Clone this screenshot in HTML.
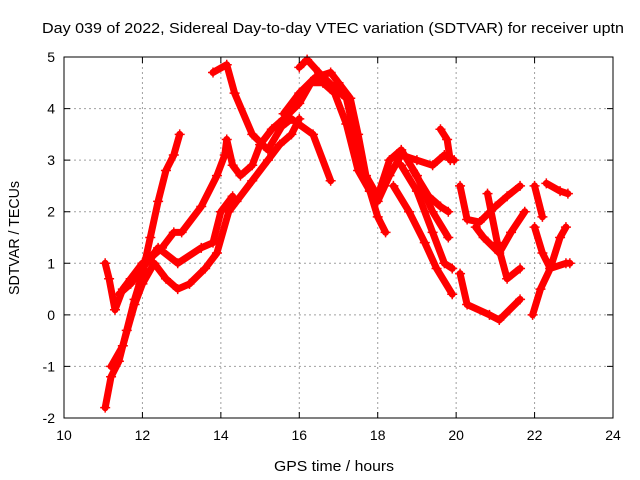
<!DOCTYPE html>
<html><head><meta charset="utf-8"><style>
body{margin:0;background:#fff}
svg{display:block;font-family:"Liberation Sans",sans-serif}
</style></head><body>
<svg id="chart" width="640" height="480">
<text x="333" y="33" font-size="15" text-anchor="middle" textLength="582" lengthAdjust="spacingAndGlyphs">Day 039 of 2022, Sidereal Day-to-day VTEC variation (SDTVAR) for receiver uptn</text>
<text x="334" y="471" font-size="15" text-anchor="middle" textLength="120" lengthAdjust="spacingAndGlyphs">GPS time / hours</text>
<text transform="translate(19,238) rotate(-90)" font-size="15" text-anchor="middle" textLength="114" lengthAdjust="spacingAndGlyphs">SDTVAR / TECUs</text>
<g id="grid"></g><g id="series"></g><g id="axes"></g>
</svg>
<script>
const xTicks=[10,12,14,16,18,20,22,24];
const yTicks=[-2,-1,0,1,2,3,4,5];
const track1=[[11.05,-1.8],[11.2,-1.2],[11.4,-0.9],[11.6,-0.3],[11.8,0.3],[12.0,0.8],[12.2,1.5],[12.4,2.2],[12.6,2.8],[12.8,3.1],[12.95,3.5]];
const track2=[[11.05,1.0],[11.15,0.7],[11.3,0.1],[11.5,0.5],[11.7,0.7],[12.0,1.0],[12.2,1.1],[12.5,1.3],[12.8,1.6],[13.0,1.6],[13.5,2.1],[13.9,2.7],[14.1,3.1],[14.15,3.4],[14.3,2.9],[14.5,2.7],[14.8,2.9],[15.0,3.3],[15.3,3.6],[15.6,3.8],[16.0,4.1],[16.3,4.5],[16.6,4.5],[16.9,4.3],[17.2,3.7],[17.5,2.8],[17.8,2.4],[18.0,2.2],[18.3,2.7],[18.6,3.1],[19.0,3.0],[19.4,2.9],[19.7,3.1],[19.95,3.0]];
const track3=[[11.2,-1.0],[11.5,-0.6],[11.8,0.2],[12.0,0.6],[12.3,1.0],[12.6,0.7],[12.9,0.5],[13.2,0.6],[13.6,0.9],[13.9,1.2],[14.2,2.0],[14.4,2.2],[14.8,2.6],[15.2,3.0],[15.5,3.3],[15.8,3.5],[16.0,3.8]];
const track4=[[11.4,0.4],[11.7,0.6],[12.0,0.9],[12.4,1.3],[12.9,1.0],[13.5,1.3],[13.8,1.4],[14.0,2.0],[14.3,2.3]];
const track5=[[13.8,4.7],[14.15,4.85],[14.35,4.3],[14.8,3.5],[15.2,3.2],[15.55,3.65],[15.8,3.8],[16.35,3.5],[16.8,2.6]];
const track6=[[16.0,4.8],[16.2,4.95],[16.5,4.7],[16.9,4.4],[17.2,4.2],[17.5,3.2],[17.8,2.4],[18.0,1.9],[18.2,1.6]];
const track7=[[15.6,3.9],[16.0,4.3],[16.4,4.6],[16.8,4.7],[17.0,4.5],[17.3,4.2],[17.5,3.5],[17.7,2.7],[18.0,2.3],[18.3,3.0],[18.6,3.2],[19.0,2.7],[19.4,2.0],[19.8,1.5]];
const track8=[[18.4,2.5],[18.8,2.0],[19.2,1.4],[19.5,0.9],[19.9,0.4]];
const track9=[[18.6,2.9],[19.0,2.4],[19.4,1.6],[19.7,1.0],[19.9,0.9]];
const track10=[[18.9,2.8],[19.3,2.3],[19.6,2.1],[19.8,2.0]];
const track11=[[19.6,3.6],[19.77,3.4],[19.85,3.0]];
const track12=[[20.1,2.5],[20.28,1.85],[20.6,1.8],[21.0,2.1],[21.3,2.3],[21.63,2.5]];
const track13=[[20.8,2.35],[21.05,1.4],[21.3,0.7],[21.63,0.9]];
const track14=[[20.5,1.7],[20.7,1.5],[21.1,1.2],[21.4,1.6],[21.75,2.0]];
const track15=[[20.1,0.8],[20.28,0.2],[20.85,0.0],[21.1,-0.1],[21.63,0.3]];
const track16=[[22.0,2.5],[22.2,1.9]];
const track17=[[22.3,2.55],[22.65,2.4],[22.85,2.35]];
const track18=[[22.0,1.7],[22.2,1.2],[22.4,0.9],[22.65,1.5],[22.8,1.7]];
const track19=[[21.95,0.0],[22.15,0.5],[22.4,0.9],[22.8,1.0],[22.9,1.0]];
const tracks=[track1,track2,track3,track4,track5,track6,track7,track8,track9,track10,track11,track12,track13,track14,track15,track16,track17,track18,track19];

const L=64,R=613,T=57,B=418,xmin=10,xmax=24,ymin=-2,ymax=5;
const X=v=>L+(v-xmin)/(xmax-xmin)*(R-L);
const Y=v=>B-(v-ymin)/(ymax-ymin)*(B-T);
const NS='http://www.w3.org/2000/svg';
function mk(tag,attrs,parent){const e=document.createElementNS(NS,tag);for(const k in attrs)e.setAttribute(k,attrs[k]);parent.appendChild(e);return e;}
const grid=document.getElementById('grid'),axes=document.getElementById('axes'),ser=document.getElementById('series');
xTicks.forEach(t=>{
  const x=X(t);
  if(t>xmin&&t<xmax){const g=mk('line',{x1:x,x2:x,y1:T,y2:B,stroke:'#a0a0a0','stroke-dasharray':'2,3'},grid);
  
  }
  const tk=mk('path',{d:`M${x},${B}v-6M${x},${T}v6`,stroke:'#000'},axes);
  
  
  const lb=mk('text',{x:x,y:B+22,'font-size':14,'text-anchor':'middle'},axes);lb.textContent=t;
  
  
});
yTicks.forEach(t=>{
  const y=Y(t);
  if(t>ymin&&t<ymax){const g=mk('line',{x1:L,x2:R,y1:y,y2:y,stroke:'#a0a0a0','stroke-dasharray':'2,3'},grid);
  
  }
  const tk=mk('path',{d:`M${L},${y}h6M${R},${y}h-6`,stroke:'#000'},axes);
  
  
  const lb=mk('text',{x:L-9,y:y+5,'font-size':14,'text-anchor':'end'},axes);lb.textContent=t;
  
  
});
const fr=mk('rect',{x:L,y:T,width:R-L,height:B-T,fill:'none',stroke:'#000'},axes);


tracks.forEach((tr,i)=>{
  const g=mk('g',{},ser);
  
  
  mk('polyline',{points:tr.map(p=>X(p[0])+','+Y(p[1])).join(' '),fill:'none',stroke:'#f00','stroke-width':7,'stroke-linejoin':'round','stroke-linecap':'round'},g);
  tr.forEach(p=>{const m=mk('path',{d:`M${X(p[0])-5},${Y(p[1])}h10M${X(p[0])},${Y(p[1])-5}v10`,stroke:'#f00','stroke-width':1.5},g);
    
    });
});
</script>
</body></html>
